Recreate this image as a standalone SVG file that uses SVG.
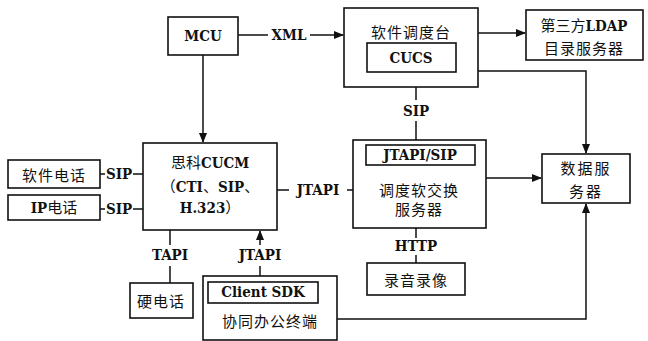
<svg xmlns="http://www.w3.org/2000/svg" width="648" height="341" viewBox="0 0 648 341">
<defs>
<style>
.b{fill:#fff;stroke:#111;stroke-width:1.6}
.l{fill:none;stroke:#111;stroke-width:1.5}
.t{font-family:'DejaVu Serif Condensed','DejaVu Serif',serif;font-stretch:condensed;font-size:15px;font-weight:bold;fill:#111;text-anchor:middle;dominant-baseline:central}
.c{font-family:'Noto Sans CJK SC',sans-serif;font-size:15px;fill:#111;text-anchor:middle;dominant-baseline:central}
.m{font-family:'DejaVu Serif Condensed','DejaVu Serif',serif;font-stretch:condensed;font-size:15px;font-weight:bold;fill:#111;text-anchor:middle}
.cj{font-family:'Noto Sans CJK SC',sans-serif;font-weight:normal;font-size:15px;font-stretch:normal}
</style>
<marker id="a" markerWidth="10" markerHeight="10" refX="9" refY="5" orient="auto" markerUnits="userSpaceOnUse">
<path d="M0,1 L10,5 L0,9 Z" fill="#111"/>
</marker>
</defs>
<rect width="648" height="341" fill="#fff"/>
<g id="connectors">
<path class="l" d="M203,55 V142" marker-end="url(#a)"/>
<path class="l" d="M238,35 H268"/>
<path class="l" d="M310,35 H343" marker-end="url(#a)"/>
<path class="l" d="M478,33 H525" marker-end="url(#a)"/>
<path class="l" d="M478,71 H586 V153" marker-end="url(#a)"/>
<path class="l" d="M416,87 V100 M416,121 V140"/>
<path class="l" d="M277,190 H289 M347,190 H353"/>
<path class="l" d="M486,178 H541" marker-end="url(#a)"/>
<path class="l" d="M416,228 V238 M416,255 V263"/>
<path class="l" d="M337,319 H586 V204" marker-end="url(#a)"/>
<path class="l" d="M170,230 V245 M170,266 V283"/>
<path class="l" d="M260,276 V266"/>
<path class="l" d="M260,245 V231" marker-end="url(#a)"/>
<path class="l" d="M100,174 H105 M133,174 H143 M100,209 H105 M133,209 H143"/>
<text class="t" x="289" y="35">XML</text>
<text class="t" x="416" y="111">SIP</text>
<text class="t" x="318" y="190">JTAPI</text>
<text class="t" x="416" y="246">HTTP</text>
<text class="t" x="170" y="255">TAPI</text>
<text class="t" x="260" y="255">JTAPI</text>
<text class="t" x="119" y="174">SIP</text>
<text class="t" x="119" y="209">SIP</text>
</g>
<g id="mcu">
<rect class="b" x="168" y="17" width="70" height="38"/>
<text class="t" x="203" y="36">MCU</text>
</g>
<g id="dispatch">
<rect class="b" x="344" y="8" width="134" height="79"/>
<text class="c" x="411" y="31" letter-spacing="1">软件调度台</text>
<rect class="b" x="367" y="43" width="89" height="29"/>
<text class="t" x="411" y="58">CUCS</text>
</g>
<g id="ldap">
<rect class="b" x="526" y="10" width="117" height="50"/>
<text class="m" x="584" y="31"><tspan class="cj">第三方</tspan>LDAP</text>
<text class="c" x="584" y="47" letter-spacing="1">目录服务器</text>
</g>
<g id="softswitch">
<rect class="b" x="353" y="140" width="133" height="88"/>
<rect class="b" x="366" y="145" width="109" height="20"/>
<text class="t" x="420" y="155">JTAPI/SIP</text>
<text class="c" x="419" y="189" letter-spacing="1">调度软交换</text>
<text class="c" x="419" y="208" letter-spacing="1">服务器</text>
</g>
<g id="dataserver">
<rect class="b" x="542" y="154" width="88" height="49"/>
<text class="c" x="586" y="167" letter-spacing="2">数据服</text>
<text class="c" x="586" y="190" letter-spacing="2">务器</text>
</g>
<g id="record">
<rect class="b" x="367" y="263" width="98" height="32"/>
<text class="c" x="416" y="279" letter-spacing="1">录音录像</text>
</g>
<g id="cucm">
<rect class="b" x="143" y="143" width="134" height="87"/>
<text class="m" x="210" y="168"><tspan class="cj">思科</tspan>CUCM</text>
<text class="m" x="210" y="192"><tspan class="cj">（</tspan>CTI<tspan class="cj">、</tspan>SIP<tspan class="cj">、</tspan></text>
<text class="m" x="210" y="213">H.323<tspan class="cj">）</tspan></text>
</g>
<g id="softphone">
<rect class="b" x="8" y="160" width="92" height="28"/>
<text class="c" x="54" y="174" letter-spacing="1">软件电话</text>
</g>
<g id="ipphone">
<rect class="b" x="8" y="195" width="92" height="25"/>
<text class="m" x="54" y="213">IP<tspan class="cj">电话</tspan></text>
</g>
<g id="hardphone">
<rect class="b" x="130" y="283" width="63" height="35"/>
<text class="c" x="161" y="300" letter-spacing="1">硬电话</text>
</g>
<g id="collab">
<rect class="b" x="203" y="276" width="134" height="64"/>
<rect class="b" x="208" y="282" width="110" height="21"/>
<text class="t" x="263" y="292">Client SDK</text>
<text class="c" x="270" y="320" letter-spacing="1">协同办公终端</text>
</g>
</svg>
